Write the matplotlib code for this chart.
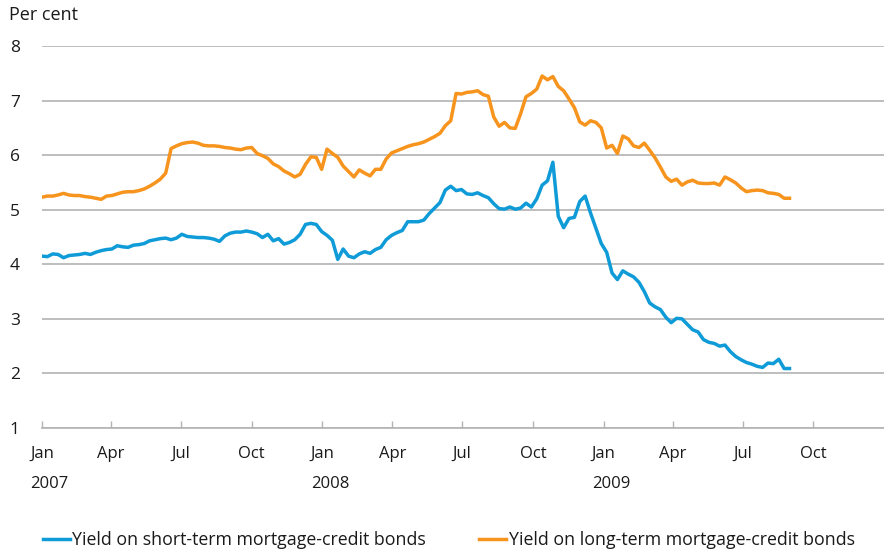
import matplotlib
matplotlib.use("Agg")
import matplotlib.pyplot as plt
import matplotlib.dates as mdates
import pandas as pd

# Weekly observations, Jan 2007 - Aug 2009
weeks = pd.date_range("2007-01-01", periods=140, freq="7D")

short_term = [
    4.15, 4.14, 4.19, 4.18, 4.12, 4.16, 4.17, 4.18, 4.20, 4.18,
    4.22, 4.25, 4.27, 4.28, 4.34, 4.32, 4.31, 4.35, 4.36, 4.38,
    4.43, 4.45, 4.47, 4.48, 4.45, 4.48, 4.55, 4.51, 4.50, 4.49,
    4.49, 4.48, 4.46, 4.42, 4.52, 4.57, 4.59, 4.59, 4.61, 4.59,
    4.56, 4.49, 4.55, 4.43, 4.47, 4.37, 4.40, 4.45, 4.55, 4.73,
    4.75, 4.73, 4.60, 4.53, 4.44, 4.09, 4.28, 4.15, 4.12, 4.19,
    4.23, 4.20, 4.27, 4.31, 4.45, 4.53, 4.58, 4.62, 4.78, 4.78,
    4.78, 4.81, 4.93, 5.03, 5.13, 5.36, 5.43, 5.35, 5.37, 5.29,
    5.28, 5.31, 5.26, 5.22, 5.11, 5.02, 5.01, 5.05, 5.01, 5.03,
    5.12, 5.05, 5.20, 5.45, 5.53, 5.87, 4.88, 4.67, 4.84, 4.86,
    5.15, 5.25, 4.94, 4.66, 4.38, 4.22, 3.84, 3.72, 3.88, 3.82,
    3.77, 3.67, 3.50, 3.29, 3.22, 3.17, 3.03, 2.93, 3.01, 3.00,
    2.90, 2.80, 2.76, 2.62, 2.57, 2.55, 2.50, 2.52, 2.40, 2.31,
    2.25, 2.20, 2.17, 2.13, 2.11, 2.19, 2.18, 2.26, 2.09, 2.09,
]

long_term = [
    5.23, 5.25, 5.25, 5.27, 5.30, 5.27, 5.26, 5.26, 5.24, 5.23,
    5.21, 5.19, 5.25, 5.26, 5.29, 5.32, 5.33, 5.33, 5.35, 5.38,
    5.43, 5.49, 5.56, 5.67, 6.12, 6.17, 6.21, 6.23, 6.24, 6.22,
    6.18, 6.17, 6.17, 6.16, 6.14, 6.13, 6.11, 6.10, 6.13, 6.14,
    6.03, 5.99, 5.94, 5.84, 5.79, 5.71, 5.66, 5.60, 5.65, 5.83,
    5.97, 5.96, 5.74, 6.11, 6.03, 5.96, 5.80, 5.70, 5.60, 5.73,
    5.67, 5.62, 5.74, 5.74, 5.93, 6.04, 6.08, 6.12, 6.16, 6.19,
    6.21, 6.24, 6.29, 6.34, 6.40, 6.54, 6.63, 7.13, 7.12, 7.15,
    7.16, 7.18, 7.11, 7.08, 6.70, 6.53, 6.60, 6.50, 6.49, 6.76,
    7.07, 7.13, 7.21, 7.45, 7.38, 7.44, 7.26, 7.18, 7.03, 6.87,
    6.61, 6.55, 6.63, 6.60, 6.50, 6.13, 6.18, 6.03, 6.35, 6.30,
    6.17, 6.14, 6.22, 6.09, 5.95, 5.78, 5.60, 5.52, 5.56, 5.45,
    5.51, 5.54, 5.49, 5.48, 5.48, 5.49, 5.45, 5.60, 5.55, 5.49,
    5.40, 5.33, 5.35, 5.36, 5.35, 5.31, 5.30, 5.28, 5.21, 5.21,
]

years = ["2007", "2008", "2009"]
y_ticks = [1, 2, 3, 4, 5, 6, 7, 8]

BLUE = "#0f9bd7"
ORANGE = "#f7941d"
GRID = "#b3b3b3"
TEXT = "#1a1a1a"

plt.rcParams["font.family"] = ["Open Sans", "DejaVu Sans"]

fig = plt.figure(figsize=(8.84, 5.55), dpi=100)
ax = fig.add_axes([42 / 884, 127 / 555, 842 / 884, 382 / 555])

ax.plot(weeks, short_term, color=BLUE, linewidth=2.5, solid_joinstyle="round")
ax.plot(weeks, long_term, color=ORANGE, linewidth=2.5, solid_joinstyle="round")

# Axes
ax.set_xlim(pd.Timestamp("2007-01-01"), pd.Timestamp("2010-01-01"))
ax.set_ylim(1, 8)
ax.set_yticks(y_ticks)
ax.grid(axis="y", color=GRID, linewidth=1.2)
ax.set_axisbelow(True)

for side in ["left", "right", "top"]:
    ax.spines[side].set_visible(False)
ax.spines["bottom"].set_color(GRID)
ax.spines["bottom"].set_linewidth(1.2)

quarters = pd.date_range("2007-01-01", "2009-10-01", freq="QS")
ax.set_xticks(quarters)
ax.xaxis.set_major_formatter(mdates.DateFormatter("%b"))
ax.tick_params(axis="x", direction="in", length=5, width=1, color=GRID,
               labelsize=12, labelcolor=TEXT, pad=13)
ax.tick_params(axis="y", length=0, labelsize=12.5, labelcolor=TEXT, pad=16)

# Year labels under January
for year in years:
    ax.annotate(year, xy=(pd.Timestamp(f"{year}-01-01") + pd.Timedelta(days=10), 0),
                xycoords=("data", "axes fraction"), xytext=(0, -40),
                textcoords="offset points", ha="center", va="center",
                fontsize=12, color=TEXT)

fig.text(9 / 884, 1 - 15 / 555, "Per cent", ha="left", va="center",
         fontsize=13, color=TEXT)

# Legend
leg = fig.legend(
    ["Yield on short-term mortgage-credit bonds",
     "Yield on long-term mortgage-credit bonds"],
    loc="center left", bbox_to_anchor=(27 / 884, 1 - 540 / 555),
    ncol=2, frameon=False, fontsize=12.8, handlelength=1.5, handletextpad=0.15,
    columnspacing=3.0, labelcolor=TEXT,
)

plt.savefig("out.png", dpi=100)
